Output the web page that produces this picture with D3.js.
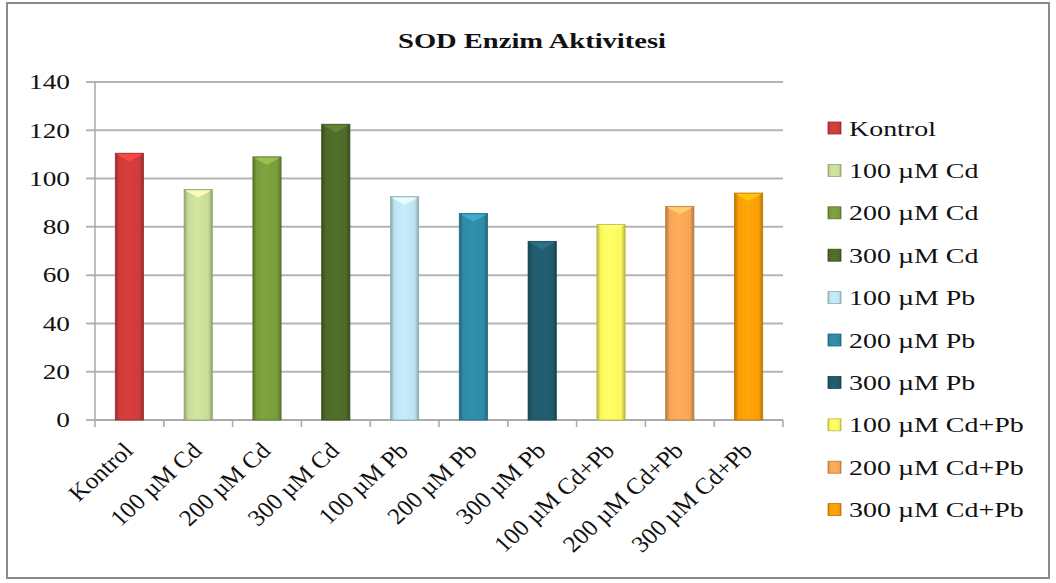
<!DOCTYPE html>
<html>
<head>
<meta charset="utf-8">
<script src="https://cdn.jsdelivr.net/npm/d3@7"></script>
<style>
  html, body { margin: 0; padding: 0; background: #fff; }
  svg { display: block; }
  text { font-family: "Liberation Serif", "Times New Roman", serif; fill: #111; }
</style>
</head>
<body>
<svg id="chart" width="1056" height="583"></svg>
<script>
// SOD enzyme activity per treatment group
const categories = ["Kontrol", "100 µM Cd", "200 µM Cd", "300 µM Cd", "100 µM Pb",
                    "200 µM Pb", "300 µM Pb", "100 µM Cd+Pb", "200 µM Cd+Pb", "300 µM Cd+Pb"];
const values = [110.5, 95.5, 109, 122.5, 92.5, 85.5, 74, 81, 88.5, 94];
const colors = ["#cf3b3b", "#c8dc98", "#7a9c3c", "#4e6a28", "#bde4f0",
                "#2f8aa6", "#215b6b", "#fbf85e", "#f8a656", "#fb9e06"];
const yTicks = [0, 20, 40, 60, 80, 100, 120, 140];
const title = "SOD Enzim Aktivitesi";

const svg = d3.select("#chart");
const plot = { left: 95, right: 783, top: 82, bottom: 420 };
const sx = 1.3; // horizontal text stretch

// outer frame
svg.append("rect").attr("x", 7).attr("y", 3).attr("width", 1042).attr("height", 575)
  .attr("fill", "#fff").attr("stroke", "#8a8a8a").attr("stroke-width", 2);

const x = d3.scaleBand().domain(categories).range([plot.left, plot.right])
  .paddingInner(0.59).paddingOuter(0.295);
const y = d3.scaleLinear().domain([0, 140]).range([plot.bottom, plot.top]);

// gradients for glossy bars
const defs = svg.append("defs");
colors.forEach((c, i) => {
  const base = d3.color(c);
  const g = defs.append("linearGradient").attr("id", "bar" + i)
    .attr("x1", "0").attr("x2", "1").attr("y1", "0").attr("y2", "0");
  g.append("stop").attr("offset", "0%").attr("stop-color", base.darker(0.9));
  g.append("stop").attr("offset", "14%").attr("stop-color", base);
  g.append("stop").attr("offset", "45%").attr("stop-color", base.brighter(0.12));
  g.append("stop").attr("offset", "86%").attr("stop-color", base);
  g.append("stop").attr("offset", "100%").attr("stop-color", base.darker(0.9));
});

// gridlines
svg.append("g").selectAll("line").data(yTicks).join("line")
  .attr("x1", plot.left - 9).attr("x2", plot.right)
  .attr("y1", d => y(d)).attr("y2", d => y(d))
  .attr("stroke", "#b4b4b4").attr("stroke-width", 2);

// axis lines
svg.append("line").attr("x1", plot.left).attr("x2", plot.left)
  .attr("y1", plot.top).attr("y2", plot.bottom)
  .attr("stroke", "#a8a8a8").attr("stroke-width", 1.5);
svg.append("line").attr("x1", plot.left).attr("x2", plot.right)
  .attr("y1", plot.bottom).attr("y2", plot.bottom)
  .attr("stroke", "#a8a8a8").attr("stroke-width", 1.5);

// category tick marks (at band boundaries)
const bounds = categories.map(c => x(c) - x.step() * x.paddingInner() / 2);
bounds.push(plot.right);
svg.append("g").selectAll("line").data(bounds).join("line")
  .attr("x1", d => d).attr("x2", d => d)
  .attr("y1", plot.bottom).attr("y2", plot.bottom + 7)
  .attr("stroke", "#a8a8a8").attr("stroke-width", 1.5);

// bars
const bars = svg.append("g");
categories.forEach((c, i) => {
  const bx = x(c), bw = x.bandwidth(), by = y(values[i]);
  const g = bars.append("g");
  g.append("rect").attr("x", bx).attr("y", by).attr("width", bw)
    .attr("height", y(0) - by).attr("fill", `url(#bar${i})`)
    .attr("stroke", d3.color(colors[i]).darker(0.8)).attr("stroke-width", 0.8);
  // top bevel
  g.append("path")
    .attr("d", `M${bx + 1},${by + 1} L${bx + bw - 1},${by + 1} L${bx + bw / 2},${by + 8} Z`)
    .attr("fill", d3.color(colors[i]).brighter(0.7)).attr("opacity", 0.85);
});

// y tick labels
svg.append("g").selectAll("g").data(yTicks).join("g")
  .attr("transform", d => `translate(70,${y(d)}) scale(${sx},1)`)
  .append("text").attr("text-anchor", "end").attr("dy", "0.35em")
  .attr("font-size", 21).text(d => d);

// x tick labels, rotated
svg.append("g").selectAll("g").data(categories).join("g")
  .attr("transform", d => `translate(${x(d) + x.bandwidth() / 2 + 5},${plot.bottom + 32}) scale(1.1,1) rotate(-45)`)
  .append("text").attr("text-anchor", "end")
  .attr("font-size", 23).text(d => d);

// title
svg.append("g").attr("transform", `translate(532,48) scale(1.36,1)`)
  .append("text").attr("text-anchor", "middle").attr("font-size", 21)
  .attr("font-weight", "bold").text(title);

// legend
const legend = svg.append("g");
categories.forEach((c, i) => {
  const ly = 128 + i * 42.4;
  legend.append("rect").attr("x", 828).attr("y", ly - 6).attr("width", 13).attr("height", 12)
    .attr("fill", `url(#bar${i})`).attr("stroke", d3.color(colors[i]).darker(0.8)).attr("stroke-width", 0.8);
  legend.append("g").attr("transform", `translate(849,${ly}) scale(${sx},1)`)
    .append("text").attr("dy", "0.35em").attr("font-size", 21.5).text(c);
});
</script>
</body>
</html>
